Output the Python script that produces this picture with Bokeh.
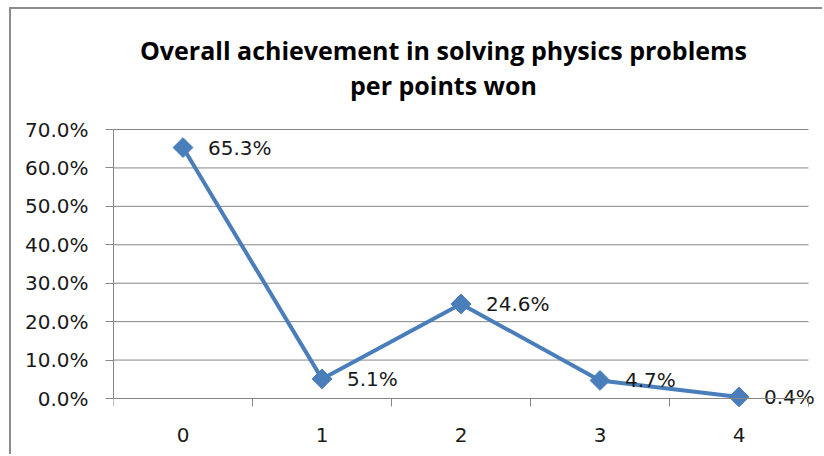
import numpy as np
from bokeh.plotting import figure
from bokeh.models import FixedTicker, NumeralTickFormatter, Range1d
from bokeh.core.properties import value
from bokeh.embed import file_html
from bokeh.resources import INLINE

categories = ["0", "1", "2", "3", "4"]
values = [0.653, 0.051, 0.246, 0.047, 0.004]
value_labels = ["65.3%", "5.1%", "24.6%", "4.7%", "0.4%"]
y_ticks = [0.0, 0.1, 0.2, 0.3, 0.4, 0.5, 0.6, 0.7]
title_lines = ["Overall achievement in solving physics problems", "per points won"]

xs = list(range(len(categories)))
x_lo, x_hi = -0.5, len(categories) - 0.5

# frame geometry (pixels) -> ranges
PX = 0.7 / 269.0           # value per pixel
frame_left, frame_right = 113, 824
frame_top, frame_bottom = 9, 456
zero_px = 398
y_start = -(frame_bottom - zero_px) * PX
y_end = (zero_px - frame_top) * PX
x_end = x_lo + (frame_right - frame_left) / 139.0

p = figure(width=813, height=447, output_backend="svg", toolbar_location=None,
           x_range=Range1d(x_lo, x_end), y_range=Range1d(y_start, y_end),
           min_border_left=102, min_border_right=0, min_border_top=0,
           min_border_bottom=0)
p.outline_line_color = None
p.background_fill_color = "white"
p.border_fill_color = "white"
p.styles = {"margin-left": "9px", "margin-top": "7px",
            "border-left": "2px solid #8c8c8c", "border-top": "2px solid #8c8c8c"}
p.xgrid.visible = False
p.ygrid.visible = False

# horizontal gridlines
p.segment(x0=[x_lo] * len(y_ticks), x1=[x_hi] * len(y_ticks), y0=y_ticks, y1=y_ticks,
          line_color="#868686", line_width=1)

# series
p.line(xs, values, line_color="#4a7ebb", line_width=4)
p.scatter(xs, values, marker="square", angle=np.pi / 4, size=14,
          fill_color="#4a7ebb", line_color="#4a7ebb")
p.text(xs, values, text=value_labels, x_offset=25, text_baseline="middle",
       text_align="left", text_font=value("DejaVu Sans"), text_font_size="20px",
       text_color="#1a1a1a")

# title
p.text([1.874, 1.874], [0.9056, 0.8145], text=title_lines, text_align="center",
       text_baseline="middle", text_font=value("Open Sans"), text_font_style="bold",
       text_font_size="25px", text_color="#000000")

# x axis
p.xaxis.fixed_location = 0
p.xaxis.bounds = (x_lo, x_hi)
p.xaxis.ticker = FixedTicker(ticks=xs,
                             minor_ticks=[i - 0.5 for i in range(len(categories) + 1)])
p.xaxis.major_label_overrides = {i: c for i, c in enumerate(categories)}
p.xaxis.major_tick_line_color = None
p.xaxis.major_tick_out = 0
p.xaxis.major_tick_in = 0
p.xaxis.minor_tick_line_color = "#868686"
p.xaxis.minor_tick_out = 8
p.xaxis.minor_tick_in = 0
p.xaxis.axis_line_color = "#868686"
p.xaxis.major_label_standoff = 21
p.xaxis.major_label_text_font = "DejaVu Sans"
p.xaxis.major_label_text_font_size = "20px"
p.xaxis.major_label_text_color = "#1a1a1a"

# y axis
p.yaxis.bounds = (0, 0.7)
p.yaxis.ticker = FixedTicker(ticks=y_ticks)
p.yaxis.formatter = NumeralTickFormatter(format="0.0%")
p.yaxis.major_tick_line_color = "#868686"
p.yaxis.major_tick_out = 8
p.yaxis.major_tick_in = 0
p.yaxis.minor_tick_line_color = None
p.yaxis.axis_line_color = "#868686"
p.yaxis.major_label_standoff = 17
p.yaxis.major_label_text_font = "DejaVu Sans"
p.yaxis.major_label_text_font_size = "20px"
p.yaxis.major_label_text_color = "#1a1a1a"

open("out.html", "w").write(file_html(p, INLINE))
